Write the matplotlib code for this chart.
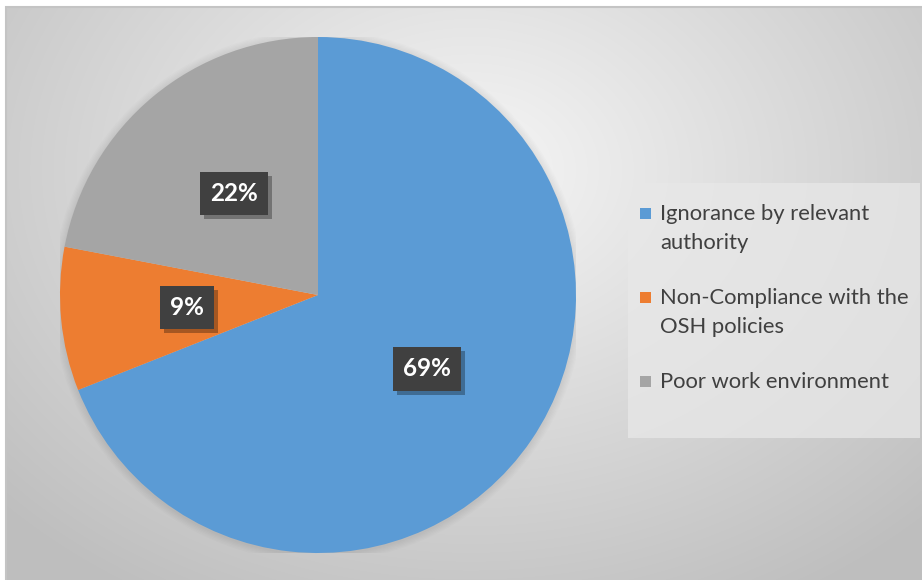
import numpy as np
import matplotlib.pyplot as plt
from matplotlib.patches import Rectangle, Circle
import matplotlib.patheffects as pe

plt.rcParams["font.family"] = ["Lato", "DejaVu Sans"]

# causes and their shares (%)
causes = ["Ignorance by relevant\nauthority",
          "Non-Compliance with the\nOSH policies",
          "Poor work environment"]
shares = [69, 9, 22]
colors = ["#5B9BD5", "#ED7D31", "#A5A5A5"]

W, H = 922, 580
fig = plt.figure(figsize=(W / 100, H / 100), dpi=100)
fig.patch.set_facecolor("white")

# chart area with a soft radial gradient, drawn in pixel units
bg = fig.add_axes([0, 0, 1, 1])
bg.set_axis_off()
yy, xx = np.mgrid[7:H, 6:W]
cx, cy = 470, 170
r = np.sqrt(((xx - cx) / 560.0) ** 2 + ((yy - cy) / 430.0) ** 2)
val = 0.965 - 0.19 * np.clip(r, 0, 1.15)
bg.imshow(np.dstack([val, val, val]), aspect="auto", origin="upper",
          extent=[6, W, H, 7], interpolation="bilinear")
bg.plot([6, 6, W], [H, 7, 7], color="#c4c4c4", lw=1.5, solid_joinstyle="miter")
bg.set_xlim(0, W)
bg.set_ylim(H, 0)

# legend panel
bg.add_patch(Rectangle((628, 183), 292, 255, facecolor="#e8e8e8",
                       alpha=0.75, edgecolor="none", zorder=3))

# pie
cxp, cyp, rad = 318, 295, 258
ax = fig.add_axes([(cxp - rad) / W, (H - cyp - rad) / H, 2 * rad / W, 2 * rad / H])
ax.set_axis_off()

# faint glow under the pie edge
for k in range(6):
    ax.add_patch(Circle((0, -0.004), 1.0 + 0.005 * (k + 1), color="black",
                        alpha=0.012, lw=0, zorder=0))

wedges, texts, autotexts = ax.pie(
    shares, colors=colors, startangle=90, counterclock=False,
    autopct="%d%%", pctdistance=0.51, radius=1.0,
    wedgeprops=dict(linewidth=0, zorder=2),
    textprops=dict(color="white", fontsize=17.5, fontweight="bold"))
for t in autotexts:
    t.set_bbox(dict(boxstyle="square,pad=0.42", facecolor="#404040", edgecolor="none"))
    t.get_bbox_patch().set_path_effects(
        [pe.SimplePatchShadow(offset=(3, -3), shadow_rgbFace="black", alpha=0.3), pe.Normal()])
    t.set_zorder(5)
ax.set_xlim(-1, 1)
ax.set_ylim(-1, 1)

# legend entries: square key beside the first line of each label
y = 220
for cause, col in zip(causes, colors):
    bg.add_patch(Rectangle((640, y - 12.5), 11, 11, facecolor=col, edgecolor="none", zorder=4))
    for line in cause.split("\n"):
        bg.text(660, y, line, fontsize=15.8, color="#404040", va="baseline",
                ha="left", zorder=4)
        y += 29
    y += 26

fig.savefig("out.png", dpi=100)
